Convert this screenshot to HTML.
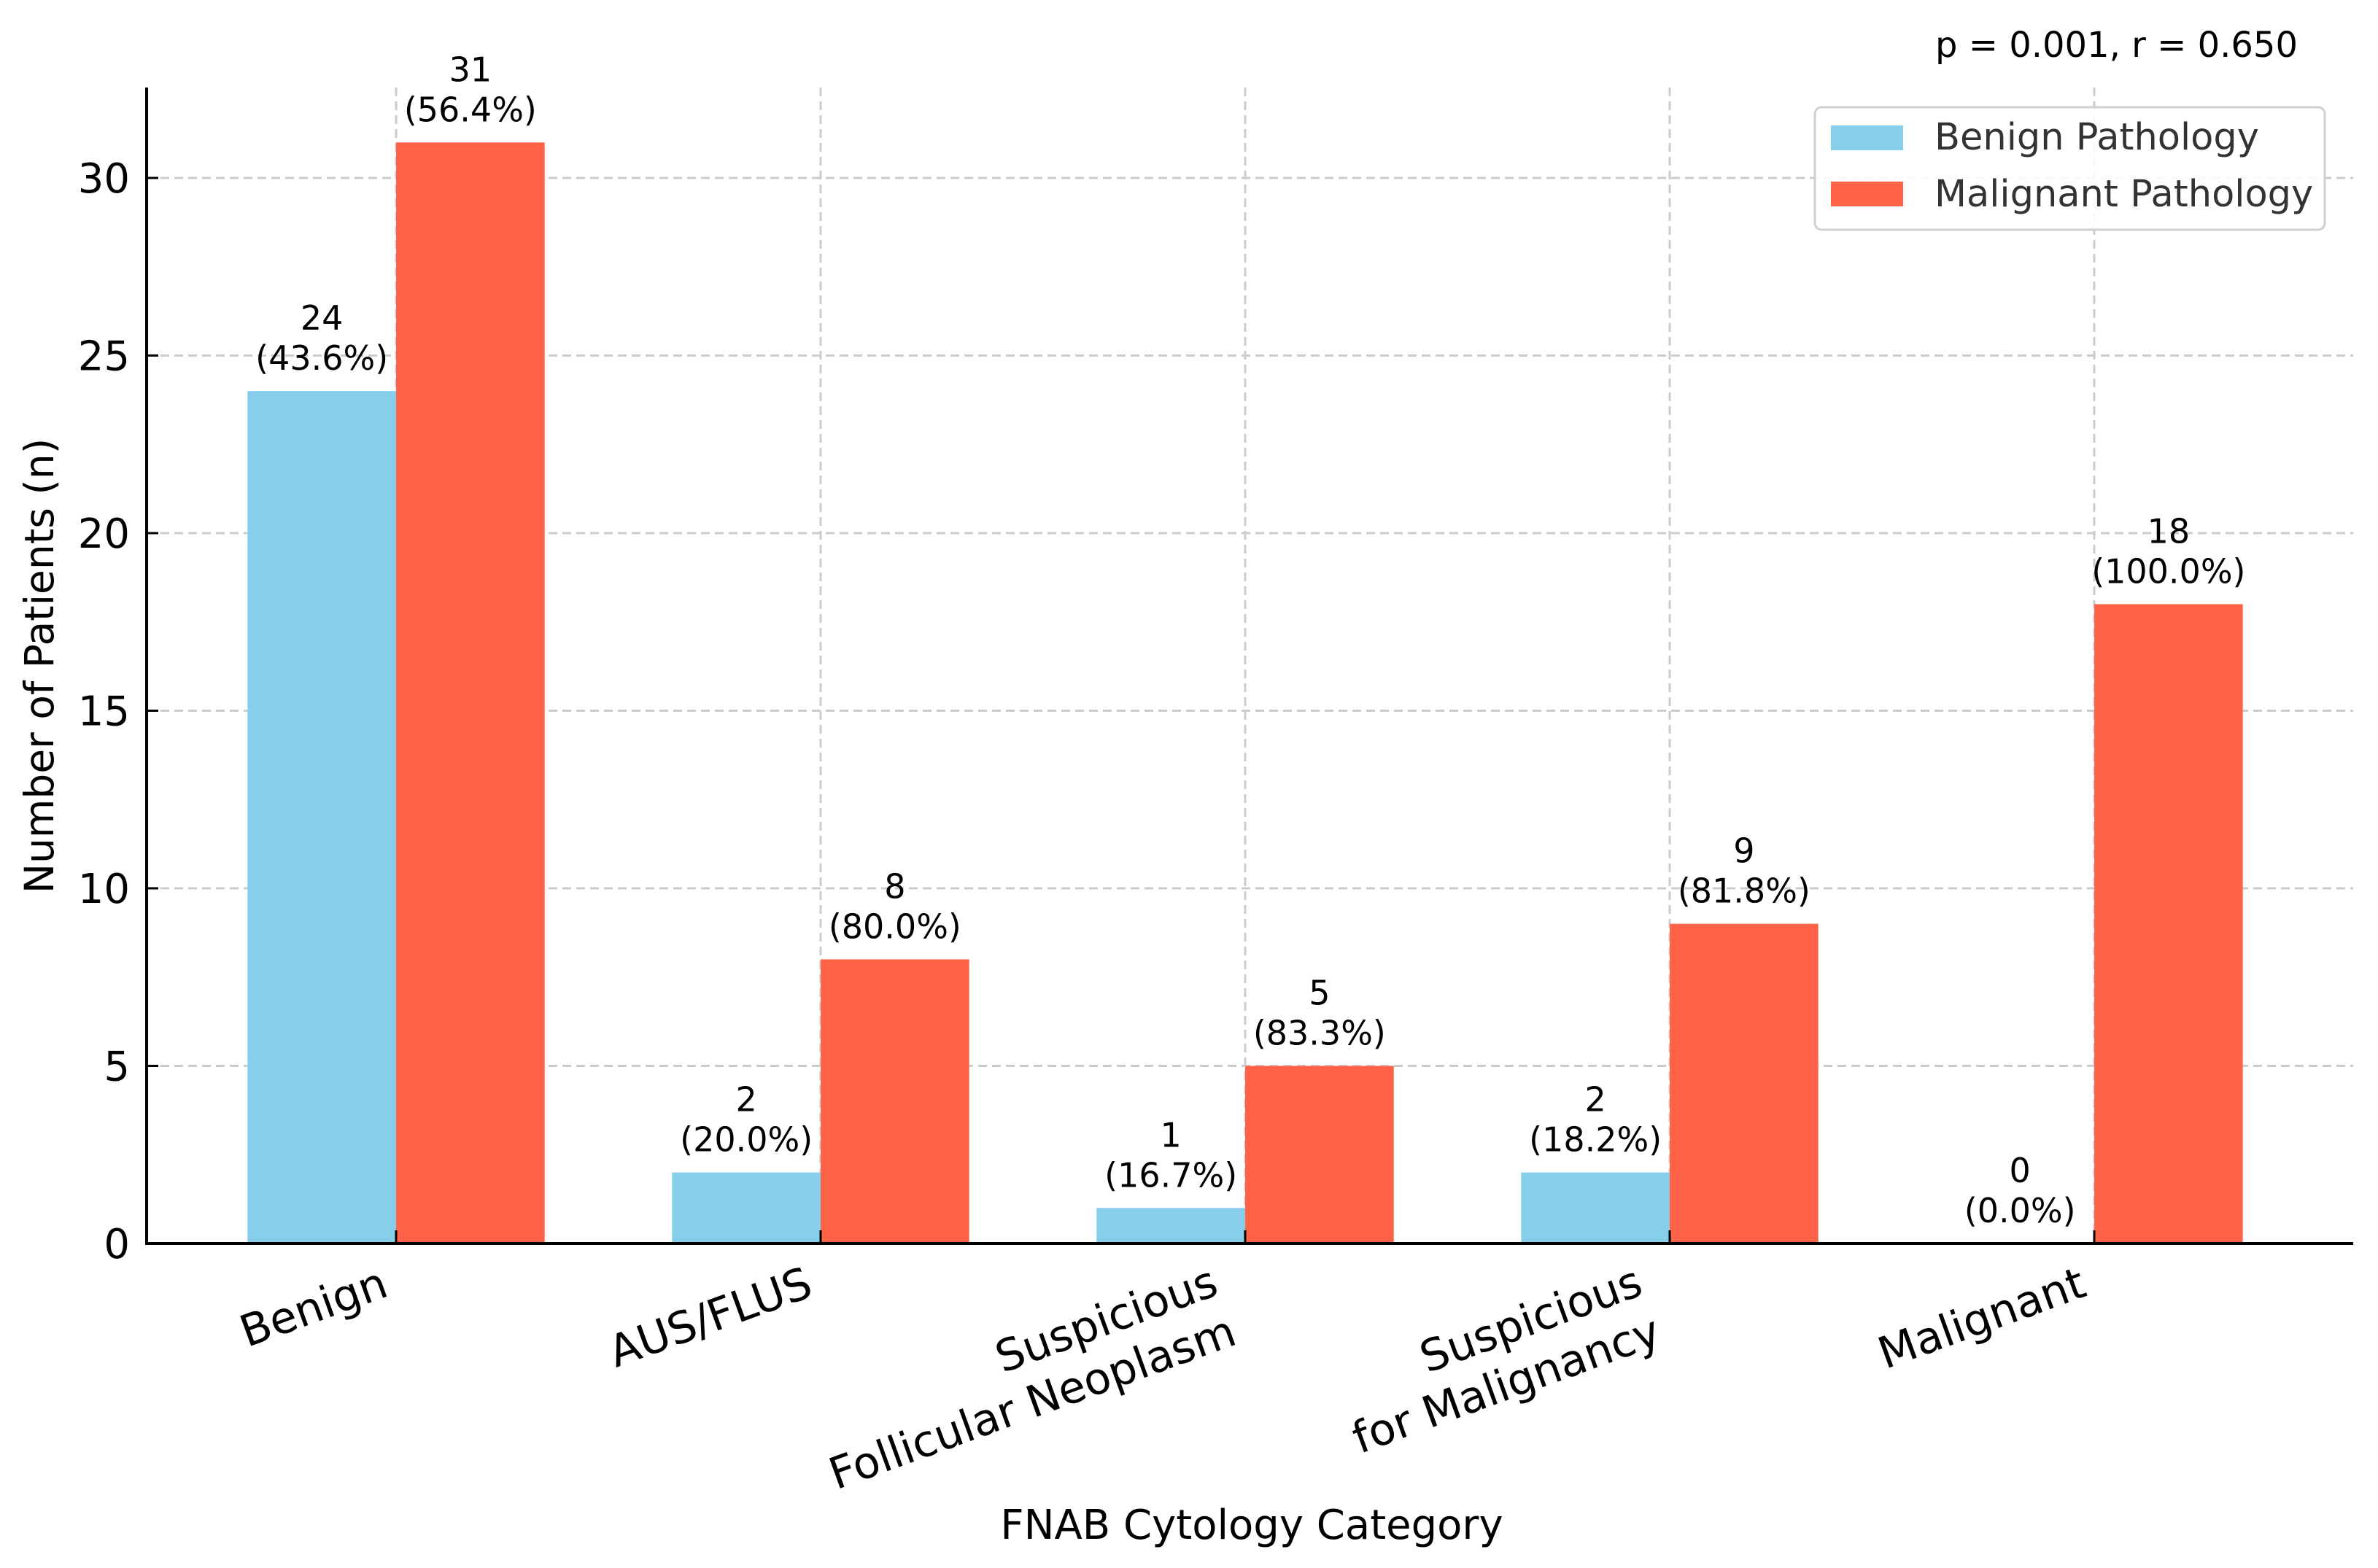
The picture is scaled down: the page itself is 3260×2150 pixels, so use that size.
<!DOCTYPE html>
<html><head><meta charset="utf-8"><style>
html,body{margin:0;padding:0;background:#fff;}
svg{display:block;font-family:"DejaVu Sans","Liberation Sans",sans-serif;}
</style></head><body>
<svg id="chart" width="3260" height="2150" viewBox="0 0 3260 2150" xmlns="http://www.w3.org/2000/svg">
<rect width="3260" height="2150" fill="#fff"/>
<g id="grid"></g>
<g id="bars"></g>
<g id="axes"></g>
<g id="labels"></g>
<text x="3150" y="78" font-size="48" text-anchor="end" fill="#000">p = 0.001, r = 0.650</text>
<text transform="translate(73,913) rotate(-90)" font-size="55" text-anchor="middle" fill="#000">Number of Patients (n)</text>
<text x="1716" y="2110" font-size="56" text-anchor="middle" fill="#000">FNAB Cytology Category</text>
<g>
<rect x="2488" y="147" width="699" height="168" rx="9" fill="#fff" fill-opacity="0.85" stroke="#d0d0d0" stroke-width="3"/>
<rect x="2510" y="172" width="99" height="34" fill="#87CEEB"/>
<text x="2652" y="205" font-size="51" fill="#333">Benign Pathology</text>
<rect x="2510" y="249" width="99" height="34" fill="#FF6347"/>
<text x="2652" y="283" font-size="51" fill="#333">Malignant Pathology</text>
</g>
</svg>
<script>
const categories = [["Benign"], ["AUS/FLUS"], ["Suspicious", "Follicular Neoplasm"], ["Suspicious", "for Malignancy"], ["Malignant"]];
const benignValues = [24, 2, 1, 2, 0];
const malignantValues = [31, 8, 5, 9, 18];
const benignPct = ["43.6%", "20.0%", "16.7%", "18.2%", "0.0%"];
const malignantPct = ["56.4%", "80.0%", "83.3%", "81.8%", "100.0%"];
const yTicks = [0, 5, 10, 15, 20, 25, 30];

const NS = "http://www.w3.org/2000/svg";
const X0 = 201, Y0 = 1705, XEND = 3226, YTOP = 120;
const catStep = 582, firstCenter = 543, barW = 0.35 * catStep;
const pxPerUnit = 48.7;
function xScale(i) { return firstCenter + i * catStep; }
function yScale(v) { return Y0 - v * pxPerUnit; }
function mk(tag, attrs, parent) {
  const e = document.createElementNS(NS, tag);
  for (const k in attrs) e.setAttribute(k, attrs[k]);
  parent.appendChild(e);
  return e;
}
const grid = document.getElementById('grid');
const bars = document.getElementById('bars');
const axes = document.getElementById('axes');
const labels = document.getElementById('labels');

yTicks.forEach(t => {
  const y = yScale(t);
  if (t > 0) {
    const g = mk('line', {x1: X0, x2: XEND, y1: y, y2: y, stroke: '#cccccc', 'stroke-width': 3, 'stroke-dasharray': '12,7'}, grid);
    
    
  }
  const tk = mk('line', {x1: X0, x2: X0 + 16, y1: y, y2: y, stroke: '#000', 'stroke-width': 3}, axes);
  
  
  const tl = mk('text', {x: 178, y: y + 20, 'font-size': 56, 'text-anchor': 'end', fill: '#000'}, axes);
  tl.textContent = t;
  
  
});
categories.forEach((c, i) => {
  const x = xScale(i);
  const g = mk('line', {x1: x, x2: x, y1: YTOP, y2: Y0, stroke: '#cccccc', 'stroke-width': 3, 'stroke-dasharray': '12,7'}, grid);
  
  
});

function addLabel(cx, v, pct) {
  const top = yScale(v);
  const t1 = mk('text', {x: cx, y: top - 84, 'font-size': 46, 'text-anchor': 'middle', fill: '#000'}, labels);
  t1.textContent = v;
  
  
  const t2 = mk('text', {x: cx, y: top - 29, 'font-size': 46, 'text-anchor': 'middle', fill: '#000'}, labels);
  t2.textContent = '(' + pct + ')';
  
  
}
categories.forEach((c, i) => {
  const x = xScale(i);
  const bh = benignValues[i] * pxPerUnit;
  const b = mk('rect', {x: x - barW, y: yScale(benignValues[i]), width: barW, height: bh, fill: '#87CEEB'}, bars);
  
  
  const mh = malignantValues[i] * pxPerUnit;
  const m = mk('rect', {x: x, y: yScale(malignantValues[i]), width: barW, height: mh, fill: '#FF6347'}, bars);
  
  
  addLabel(x - barW / 2, benignValues[i], benignPct[i]);
  addLabel(x + barW / 2, malignantValues[i], malignantPct[i]);

  const tk = mk('line', {x1: x, x2: x, y1: Y0, y2: Y0 - 18, stroke: '#000', 'stroke-width': 3}, axes);
  
  

  const n = c.length;
  c.forEach((line, j) => {
    let ex, ey;
    if (n === 1) { ex = x - 8; ey = 1776; }
    else { ex = x - 34 + j * 25; ey = 1774 + j * 68; }
    const t = mk('text', {x: 0, y: 0, 'font-size': 60, 'text-anchor': 'end', fill: '#000',
      transform: 'translate(' + ex + ',' + ey + ') rotate(-20)'}, axes);
    t.textContent = line;
    
    
  });
});
const ya = mk('line', {x1: X0, x2: X0, y1: YTOP, y2: Y0 + 2, stroke: '#000', 'stroke-width': 4}, axes);


const xa = mk('line', {x1: X0 - 2, x2: XEND, y1: Y0, y2: Y0, stroke: '#000', 'stroke-width': 4}, axes);


</script>
</body></html>
